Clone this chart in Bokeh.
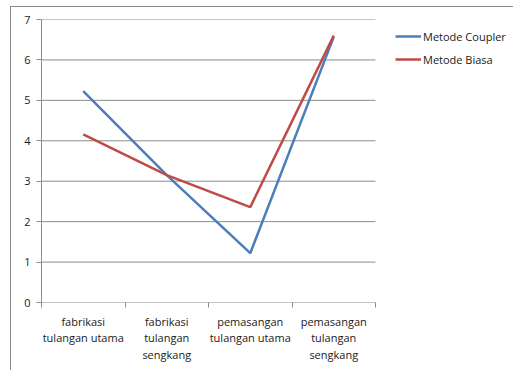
from bokeh.plotting import figure
from bokeh.models import FixedTicker, Legend, LegendItem, Range1d, LinearAxis
from bokeh.embed import file_html
from bokeh.resources import INLINE

# Data
categories = ["fabrikasi\ntulangan utama", "fabrikasi\ntulangan\nsengkang",
              "pemasangan\ntulangan utama", "pemasangan\ntulangan\nsengkang"]
metode_coupler = [5.23, 3.15, 1.22, 6.57]
metode_biasa = [4.16, 3.15, 2.36, 6.6]
y_ticks = [0, 1, 2, 3, 4, 5, 6, 7]

FONT = "Open Sans"
GRID = "#8c8c8c"
BLUE = "#4a7ebb"
RED = "#be4b48"
TEXT = "#1a1a1a"

n = len(categories)
xs = [i + 0.5 for i in range(n)]

# The plot frame runs to the right edge so the legend can sit beside the lines;
# the category area spans 0..n and occupies 334 of the 473 frame pixels.
W, H = 503, 364
LEFT, BOTTOM, TOP = 30, 69, 12
x_end = n * (W - LEFT) / 334

p = figure(width=W, height=H, output_backend="svg", toolbar_location=None,
           x_range=Range1d(0, x_end), y_range=Range1d(0, 7),
           min_border_left=LEFT, min_border_right=0,
           min_border_top=TOP, min_border_bottom=BOTTOM)
p.background_fill_color = "white"
p.border_fill_color = "white"
p.outline_line_color = None
p.xgrid.grid_line_color = None
p.ygrid.grid_line_color = None

# Chart border on the page (left and top edges visible)
p.styles = {"margin-left": "10px", "margin-top": "6px",
            "border-left": f"1px solid {GRID}", "border-top": f"1px solid {GRID}"}

# Horizontal grid lines across the category area only
p.segment(x0=[0] * len(y_ticks), x1=[n] * len(y_ticks), y0=y_ticks, y1=y_ticks,
          line_color=GRID, line_width=1)

# Y axis
p.yaxis.ticker = FixedTicker(ticks=y_ticks)
p.yaxis.axis_line_color = GRID
p.yaxis.major_tick_line_color = GRID
p.yaxis.major_tick_in = 0
p.yaxis.major_tick_out = 5
p.yaxis.minor_tick_line_color = None
p.yaxis.major_label_text_font = FONT
p.yaxis.major_label_text_font_size = "11px"
p.yaxis.major_label_text_color = TEXT
p.yaxis.major_label_standoff = 6

# X axis: boundary tick marks only (axis line is the grid line at 0)
bounds = list(range(n + 1))
p.xaxis.ticker = FixedTicker(ticks=bounds)
p.xaxis.axis_line_color = None
p.xaxis.major_tick_line_color = GRID
p.xaxis.major_tick_in = 0
p.xaxis.major_tick_out = 5
p.xaxis.minor_tick_line_color = None
p.xaxis.major_label_overrides = {b: "" for b in bounds}

# Category labels centred under each slot
cat_axis = LinearAxis(ticker=FixedTicker(ticks=xs),
                      major_label_overrides={x: c for x, c in zip(xs, categories)})
cat_axis.axis_line_color = None
cat_axis.major_tick_line_color = None
cat_axis.minor_tick_line_color = None
cat_axis.major_label_text_font = FONT
cat_axis.major_label_text_font_size = "11px"
cat_axis.major_label_text_color = TEXT
cat_axis.major_label_text_line_height = 1.1
cat_axis.major_label_standoff = 0
p.add_layout(cat_axis, "below")

r1 = p.line(xs, metode_coupler, line_color=BLUE, line_width=2.5)
r2 = p.line(xs, metode_biasa, line_color=RED, line_width=2.5)

legend = Legend(items=[LegendItem(label="Metode Coupler", renderers=[r1]),
                       LegendItem(label="Metode Biasa", renderers=[r2])],
                location=(354, 235))
legend.border_line_color = None
legend.background_fill_alpha = 0
legend.label_text_font = FONT
legend.label_text_font_size = "11px"
legend.label_text_color = TEXT
legend.glyph_width = 26
legend.glyph_height = 16
legend.label_height = 16
legend.label_standoff = 2
legend.spacing = 7
legend.padding = 2
legend.margin = 0
p.add_layout(legend, "center")

open("out.html", "w").write(file_html(p, INLINE))
